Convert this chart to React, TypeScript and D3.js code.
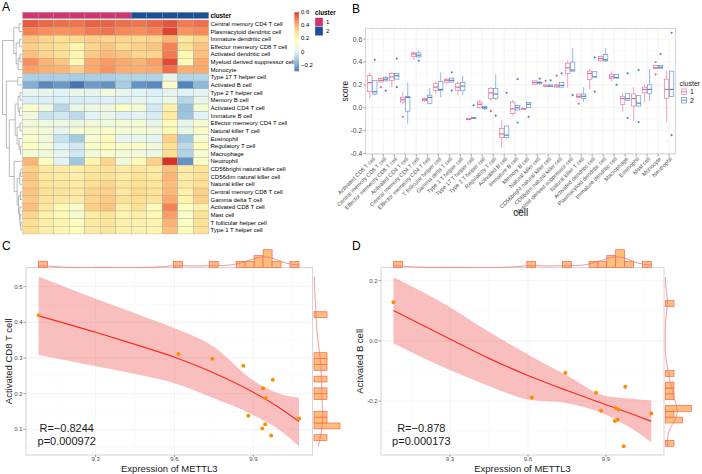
import React from 'react';
import * as d3 from 'd3';

// ---------- A: immune infiltration heatmap ----------
const heatRows = [
  'Central memory CD4 T cell', 'Plasmacytoid dendritic cell', 'Immature dendritic cell',
  'Effector memeory CD8 T cell', 'Activated dendritic cell', 'Myeloid derived suppressor cell',
  'Monocyte', 'Type 17 T helper cell', 'Activated B cell', 'Type 2 T helper cell',
  'Memory B cell', 'Activated CD4 T cell', 'Immature  B cell', 'Effector memeory CD4 T cell',
  'Natural killer T cell', 'Eosinophil', 'Regulatory T cell', 'Macrophage', 'Neutrophil',
  'CD56bright natural killer cell', 'CD56dim natural killer cell', 'Natural killer cell',
  'Central memory CD8 T cell', 'Gamma delta T cell', 'Activated CD8 T cell', 'Mast cell',
  'T follicular helper cell', 'Type 1 T helper cell',
];
const sampleCluster = [1, 1, 1, 1, 1, 1, 1, 2, 2, 2, 2, 2];
const heatValues = [
  [0.53, 0.51, 0.50, 0.49, 0.52, 0.52, 0.50, 0.49, 0.51, 0.54, 0.48, 0.50],
  [0.47, 0.45, 0.44, 0.45, 0.48, 0.49, 0.46, 0.45, 0.47, 0.57, 0.44, 0.46],
  [0.35, 0.32, 0.30, 0.31, 0.33, 0.32, 0.32, 0.31, 0.32, 0.38, 0.26, 0.32],
  [0.33, 0.31, 0.29, 0.20, 0.32, 0.35, 0.31, 0.33, 0.35, 0.47, 0.29, 0.35],
  [0.36, 0.32, 0.30, 0.20, 0.34, 0.37, 0.35, 0.32, 0.32, 0.48, 0.19, 0.36],
  [0.45, 0.38, 0.35, 0.19, 0.40, 0.43, 0.40, 0.38, 0.42, 0.56, 0.17, 0.40],
  [0.41, 0.39, 0.38, 0.33, 0.40, 0.44, 0.39, 0.39, 0.40, 0.50, 0.39, 0.40],
  [-0.10, -0.10, -0.10, -0.11, -0.10, -0.10, -0.09, -0.09, -0.09, 0.02, -0.09, -0.085],
  [-0.18, -0.26, -0.23, -0.35, -0.22, -0.24, -0.11, -0.24, -0.26, 0.13, -0.27, -0.16],
  [0.03, 0.02, 0.0, 0.05, 0.03, 0.07, 0.03, 0.0, -0.01, 0.02, 0.0, 0.01],
  [-0.01, -0.01, -0.01, -0.015, -0.01, -0.005, -0.01, 0.03, 0.0, 0.05, -0.08, 0.04],
  [0.12, 0.07, -0.08, 0.05, 0.06, 0.07, 0.14, 0.09, -0.03, 0.22, -0.14, 0.10],
  [0.07, -0.05, -0.03, -0.07, 0.0, 0.05, -0.01, 0.01, -0.02, 0.25, -0.13, 0.0],
  [0.08, 0.07, 0.06, 0.05, 0.08, 0.07, 0.09, 0.09, 0.04, 0.17, 0.03, 0.11],
  [0.10, 0.09, 0.035, 0.10, 0.11, 0.12, 0.09, 0.10, 0.08, 0.18, 0.05, 0.12],
  [0.12, 0.08, -0.05, -0.115, 0.10, 0.18, 0.015, 0.04, 0.015, 0.33, -0.125, 0.10],
  [0.15, 0.10, 0.0, -0.03, 0.13, 0.17, 0.13, 0.12, 0.08, 0.29, -0.07, 0.17],
  [0.10, 0.08, 0.03, -0.035, 0.08, 0.12, 0.09, 0.08, 0.06, 0.30, -0.09, 0.10],
  [0.38, 0.16, 0.0, -0.125, 0.20, 0.32, 0.08, 0.18, 0.33, 0.65, -0.24, 0.13],
  [0.33, 0.26, 0.24, 0.23, 0.27, 0.29, 0.25, 0.27, 0.25, 0.36, 0.24, 0.28],
  [0.35, 0.26, 0.24, 0.23, 0.28, 0.29, 0.25, 0.29, 0.26, 0.38, 0.24, 0.30],
  [0.34, 0.28, 0.26, 0.25, 0.30, 0.32, 0.27, 0.29, 0.27, 0.36, 0.25, 0.30],
  [0.35, 0.29, 0.28, 0.26, 0.32, 0.33, 0.26, 0.31, 0.29, 0.37, 0.22, 0.33],
  [0.34, 0.28, 0.26, 0.25, 0.32, 0.34, 0.29, 0.30, 0.28, 0.40, 0.21, 0.33],
  [0.36, 0.26, 0.18, 0.12, 0.33, 0.35, 0.22, 0.29, 0.16, 0.47, 0.15, 0.21],
  [0.32, 0.22, 0.18, 0.11, 0.24, 0.27, 0.20, 0.23, 0.18, 0.42, 0.12, 0.29],
  [0.30, 0.23, 0.20, 0.16, 0.25, 0.27, 0.22, 0.22, 0.20, 0.38, 0.14, 0.29],
  [0.30, 0.23, 0.20, 0.16, 0.25, 0.27, 0.22, 0.22, 0.20, 0.36, 0.16, 0.29],
];
const heatPalette = ['#4575B4', '#91BFDB', '#E0F3F8', '#FFFFBF', '#FEE090', '#FC8D59', '#D73027'];
const heatLegendTicks = [0.6, 0.4, 0.2, 0, -0.2];
const clusterColors: Record<number, string> = { 1: '#D6336C', 2: '#1B4F9C' };

// row dendrogram: leaf = row index, node = [height, left, right]
type Tree = number | [number, Tree, Tree];
const rowTree: Tree = [1.0,
  [0.42, [0.15, 0, 1], [0.3, [0.12, 2, 3], [0.2, [0.1, 4, 5], 6]]],
  [0.8, [0.22, 7, 8],
    [0.65,
      [0.35, [0.2, [0.1, 9, 10], [0.12, 11, 12]], [0.25, [0.1, 13, 14], [0.15, 15, [0.08, 16, 17]]]],
      [0.4, 18, [0.25, [0.12, [0.06, 19, 20], 21], [0.18, [0.08, 22, 23], [0.12, 24, [0.1, 25, [0.06, 26, 27]]]]]],
    ],
  ],
];

// ---------- B: ssGSEA scores by cluster ----------
const boxCells = [
  'Activated CD8 T cell', 'Central memory CD8 T cell', 'Effector memeory CD8 T cell',
  'Activated CD4 T cell', 'Central memory CD4 T cell', 'Effector memeory CD4 T cell',
  'T follicular helper cell', 'Gamma delta T cell', 'Type 1 T helper cell',
  'Type 17 T helper cell', 'Type 2 T helper cell', 'Regulatory T cell', 'Activated B cell',
  'Immature  B cell', 'Memory B cell', 'Natural killer cell', 'CD56bright natural killer cell',
  'CD56dim natural killer cell', 'Myeloid derived suppressor cell', 'Natural killer T cell',
  'Activated dendritic cell', 'Plasmacytoid dendritic cell', 'Immature dendritic cell',
  'Macrophage', 'Eosinophil', 'Mast cell', 'Monocyte', 'Neutrophil',
];
// [lower whisker, q1, median, q3, upper whisker]
const boxStats1 = [
  [0.08, 0.14, 0.22, 0.28, 0.31], [0.22, 0.225, 0.24, 0.255, 0.27], [0.18, 0.24, 0.27, 0.30, 0.31],
  [0.03, 0.05, 0.07, 0.09, 0.14], [0.42, 0.45, 0.47, 0.48, 0.49], [0.05, 0.06, 0.07, 0.08, 0.09],
  [0.12, 0.15, 0.18, 0.21, 0.23], [0.21, 0.22, 0.24, 0.25, 0.26], [0.11, 0.15, 0.18, 0.21, 0.23],
  [-0.11, -0.105, -0.10, -0.095, -0.09], [-0.01, 0.0, 0.03, 0.05, 0.07], [0.06, 0.08, 0.13, 0.17, 0.18],
  [-0.35, -0.26, -0.23, -0.18, -0.11], [-0.07, -0.05, -0.01, 0.05, 0.07], [-0.015, -0.012, -0.01, -0.007, -0.005],
  [0.20, 0.205, 0.22, 0.235, 0.24], [0.18, 0.185, 0.19, 0.20, 0.20], [0.18, 0.18, 0.19, 0.20, 0.21],
  [0.17, 0.30, 0.35, 0.39, 0.415], [0.09, 0.09, 0.10, 0.12, 0.12], [0.16, 0.245, 0.30, 0.32, 0.34],
  [0.40, 0.41, 0.43, 0.45, 0.46], [0.23, 0.255, 0.27, 0.29, 0.32], [-0.035, 0.03, 0.08, 0.10, 0.127],
  [-0.115, 0.015, 0.08, 0.12, 0.18], [0.05, 0.13, 0.16, 0.18, 0.20], [0.345, 0.345, 0.35, 0.37, 0.37],
  [-0.125, 0.08, 0.16, 0.25, 0.32],
];
const boxStats2 = [
  [0.11, 0.12, 0.14, 0.24, 0.24], [0.23, 0.235, 0.25, 0.265, 0.28], [0.25, 0.25, 0.28, 0.30, 0.30],
  [-0.14, -0.03, 0.09, 0.10, 0.22], [0.44, 0.445, 0.46, 0.48, 0.50], [0.03, 0.04, 0.09, 0.11, 0.17],
  [0.09, 0.15, 0.16, 0.23, 0.31], [0.22, 0.225, 0.24, 0.26, 0.26], [0.11, 0.15, 0.19, 0.22, 0.28],
  [-0.095, -0.092, -0.09, -0.087, -0.085], [-0.02, -0.01, 0.0, 0.01, 0.02], [0.07, 0.08, 0.12, 0.17, 0.29],
  [-0.27, -0.26, -0.24, -0.16, -0.16], [-0.02, -0.02, 0.0, 0.02, 0.02], [0.0, 0.0, 0.03, 0.045, 0.05],
  [0.20, 0.21, 0.22, 0.225, 0.23], [0.18, 0.185, 0.19, 0.20, 0.20], [0.18, 0.18, 0.195, 0.22, 0.22],
  [0.32, 0.32, 0.33, 0.40, 0.52], [0.05, 0.08, 0.10, 0.12, 0.18], [0.27, 0.27, 0.27, 0.315, 0.315],
  [0.40, 0.41, 0.42, 0.465, 0.52], [0.255, 0.26, 0.265, 0.29, 0.29], [0.062, 0.062, 0.08, 0.127, 0.127],
  [0.015, 0.015, 0.04, 0.105, 0.105], [0.06, 0.125, 0.16, 0.20, 0.34], [0.345, 0.345, 0.355, 0.37, 0.37],
  [0.10, 0.10, 0.16, 0.32, 0.32],
];
const boxOutliers1 = [
  [], [0.18], [], [-0.08], [], [], [], [], [], [], [], [-0.03], [], [], [],
  [], [0.235], [0.28], [], [0.035], [], [], [], [], [], [], [0.40, 0.29], [],
];
const boxOutliers2 = [
  [0.42], [0.15], [0.43, 0.18], [], [0.41], [], [], [0.31, 0.15], [], [0.02], [], [-0.07], [0.13], [0.25, -0.13], [-0.08],
  [0.255], [0.24], [0.30], [0.11], [], [0.44, 0.14], [], [0.20], [0.30, -0.09], [0.33, -0.125], [], [0.47], [0.655, -0.24],
];
const scoreTicks = [-0.4, -0.2, 0, 0.2, 0.4, 0.6];
const scoreMinor = [-0.3, -0.1, 0.1, 0.3, 0.5];
const boxColors = ['#E4658F', '#4E86CF'];

// ---------- C / D: METTL3 correlations ----------
const mettl3 = [9.083, 9.615, 9.744, 9.862, 9.881, 9.934, 9.937, 9.945, 9.948, 9.968, 9.974, 10.074];
const activatedCD8 = [0.42, 0.311, 0.298, 0.278, 0.138, 0.102, 0.215, 0.114, 0.188, 0.083, 0.239, 0.130];
const activatedB = [0.128, -0.188, -0.107, -0.172, -0.232, -0.266, -0.223, -0.262, -0.228, -0.35, -0.152, -0.241];
const fitX = [9.083, 9.3, 9.45, 9.6, 9.75, 9.9, 10.0, 10.074];
const cd8Fit = [0.418, 0.372, 0.338, 0.302, 0.258, 0.204, 0.160, 0.122];
const cd8Lower = [0.308, 0.277, 0.255, 0.229, 0.187, 0.140, 0.098, 0.052];
const cd8Upper = [0.528, 0.466, 0.425, 0.383, 0.331, 0.237, 0.200, 0.189];
const bFit = [0.101, 0.006, -0.058, -0.115, -0.165, -0.212, -0.243, -0.267];
const bLower = [-0.009, -0.097, -0.150, -0.195, -0.207, -0.245, -0.292, -0.337];
const bUpper = [0.211, 0.112, 0.030, -0.045, -0.115, -0.183, -0.192, -0.198];
const exprTicks = [9.3, 9.6, 9.9];
const exprMinor = [9.15, 9.45, 9.75, 10.05];

const FONT = '"Liberation Sans", Arial, Helvetica, sans-serif';
const TICK = '#4D4D4D';
const GRID = '#EBEBEB';
const GRID_MINOR = '#F5F5F5';
const BORDER = '#C4C4C4';

// gaussian kernel density with R's bw.nrd0
function kde(values: number[], lo: number, hi: number, n = 256) {
  const sorted = values.slice().sort(d3.ascending);
  const sd = d3.deviation(values) as number;
  const iqr = (d3.quantileSorted(sorted, 0.75) as number) - (d3.quantileSorted(sorted, 0.25) as number);
  const bw = 0.9 * Math.min(sd, iqr / 1.34) * Math.pow(values.length, -0.2);
  const k = 1 / (values.length * bw * Math.sqrt(2 * Math.PI));
  return d3.range(n).map(i => {
    const x = lo + ((hi - lo) * i) / (n - 1);
    return [x, k * d3.sum(values, v => Math.exp(-0.5 * ((x - v) / bw) ** 2))] as [number, number];
  });
}

// histogram as densities, 29 equal bins over [lo, hi]
function densityBins(values: number[], lo: number, hi: number, nb = 29) {
  const w = (hi - lo) / nb;
  const bins = d3.bin().domain([lo, hi]).thresholds(d3.range(1, nb).map(i => lo + i * w))(values);
  return bins
    .filter(b => b.length > 0)
    .map(b => ({ x0: b.x0 as number, x1: b.x1 as number, d: b.length / (values.length * w) }));
}

function Heatmap() {
  const x0 = 22.7, y0 = 20, cw = 15.5, rh = 7.64;
  const leafX = 22;
  const color = d3.scaleLinear<string>()
    .domain(d3.range(7).map(i => -0.3 + i * 0.15))
    .range(heatPalette)
    .clamp(true);
  const legY = d3.scaleLinear().domain([0.6, -0.3]).range([12.3, 71]);

  const segs: [number, number, number, number][] = [];
  const layout = (t: Tree): { x: number; y: number } => {
    if (typeof t === 'number') return { x: leafX, y: y0 + (t + 0.5) * rh };
    const [h, l, r] = t;
    const a = layout(l), b = layout(r);
    const x = leafX - h * 19.5;
    segs.push([x, a.y, x, b.y], [x, a.y, a.x, a.y], [x, b.y, b.x, b.y]);
    return { x, y: (a.y + b.y) / 2 };
  };
  layout(rowTree);

  const legSteps = d3.range(90).map(i => 0.6 - (i * 0.9) / 90);

  return (
    <g>
      {sampleCluster.map((c, j) => (
        <rect key={'ann' + j} x={x0 + j * cw} y={12.3} width={cw} height={6.2}
          fill={clusterColors[c]} stroke="#999" strokeWidth={0.4} />
      ))}
      <text x={210.5} y={17.6} fontSize={6.3} fontWeight="bold">cluster</text>
      {heatValues.map((row, i) =>
        row.map((v, j) => (
          <rect key={`c${i}-${j}`} x={x0 + j * cw} y={y0 + i * rh} width={cw} height={rh}
            fill={color(v)} stroke="#A6A6A6" strokeWidth={0.4} />
        )))}
      {heatRows.map((r, i) => (
        <text key={'r' + i} x={210.5} y={y0 + (i + 0.5) * rh} dy="0.35em" fontSize={6}>{r}</text>
      ))}
      {segs.map((s, i) => (
        <line key={'d' + i} x1={s[0]} y1={s[1]} x2={s[2]} y2={s[3]} stroke="#8C8C8C" strokeWidth={0.6} />
      ))}
      {legSteps.map((v, i) => (
        <rect key={'lg' + i} x={294.5} y={legY(v)} width={4.5} height={legY(0.59) - legY(0.6) + 0.3}
          fill={color(v - 0.005)} />
      ))}
      {heatLegendTicks.map(t => (
        <text key={'lt' + t} x={301} y={legY(t)} dy="0.35em" fontSize={6}>
          {t === 0 ? '0' : t < 0 ? '\u22120.2' : String(t)}
        </text>
      ))}
      <text x={315} y={15} fontSize={6.3} fontWeight="bold">cluster</text>
      {[1, 2].map((c, i) => (
        <g key={'cl' + c}>
          <rect x={315} y={17.7 + i * 9} width={8} height={9} fill={clusterColors[c]} stroke="#fff" strokeWidth={0.3} />
          <text x={326} y={22.2 + i * 9} dy="0.35em" fontSize={6}>{c}</text>
        </g>
      ))}
    </g>
  );
}

function BoxPanel() {
  const left = 365.7, right = 675.7, top = 28.3, bottom = 154;
  const x = d3.scalePoint<string>().domain(boxCells).range([left, right]).padding(0.6);
  const y = d3.scaleLinear().domain([-0.405, 0.695]).range([bottom, top]);
  const step = x.step();
  const bw = step * 0.4;
  const off = step * 0.225;
  const groups = [
    { stats: boxStats1, outs: boxOutliers1, dx: -off, col: boxColors[0] },
    { stats: boxStats2, outs: boxOutliers2, dx: off, col: boxColors[1] },
  ];
  return (
    <g>
      {scoreMinor.map(t => (
        <line key={'m' + t} x1={left} x2={right} y1={y(t)} y2={y(t)} stroke={GRID_MINOR} strokeWidth={0.4} />
      ))}
      {scoreTicks.map(t => (
        <line key={'g' + t} x1={left} x2={right} y1={y(t)} y2={y(t)} stroke={GRID} strokeWidth={0.6} />
      ))}
      {boxCells.map(c => (
        <line key={'v' + c} x1={x(c)} x2={x(c)} y1={top} y2={bottom} stroke={GRID} strokeWidth={0.6} />
      ))}
      {boxCells.map((c, i) => groups.map((g, k) => {
        const [lo, q1, med, q3, hi] = g.stats[i];
        const cx = (x(c) as number) + g.dx;
        return (
          <g key={`b${i}-${k}`} stroke={g.col} fill="none">
            <line x1={cx} x2={cx} y1={y(hi)} y2={y(q3)} strokeWidth={0.6} />
            <line x1={cx} x2={cx} y1={y(q1)} y2={y(lo)} strokeWidth={0.6} />
            <rect x={cx - bw / 2} y={y(q3)} width={bw} height={Math.max(0.4, y(q1) - y(q3))} fill="#fff" strokeWidth={0.6} />
            <line x1={cx - bw / 2} x2={cx + bw / 2} y1={y(med)} y2={y(med)} strokeWidth={1.2} />
            {g.outs[i].map((o, j) => (
              <circle key={j} cx={cx} cy={y(o)} r={1.1} fill={g.col} stroke="none" />
            ))}
          </g>
        );
      }))}
      <rect x={left} y={top} width={right - left} height={bottom - top} fill="none" stroke={BORDER} strokeWidth={0.7} />
      {scoreTicks.map(t => (
        <g key={'yt' + t}>
          <line x1={left - 2.5} x2={left} y1={y(t)} y2={y(t)} stroke={TICK} strokeWidth={0.5} />
          <text x={left - 3.5} y={y(t)} dy="0.35em" textAnchor="end" fontSize={6.8} fill={TICK}>{t.toFixed(1)}</text>
        </g>
      ))}
      {boxCells.map(c => (
        <g key={'xt' + c}>
          <line x1={x(c)} x2={x(c)} y1={bottom} y2={bottom + 2.5} stroke={TICK} strokeWidth={0.5} />
          <text transform={`translate(${(x(c) as number) + 2},${bottom + 4}) rotate(-45)`} textAnchor="end"
            dy="0.35em" fontSize={5.6} fill={TICK}>{c}</text>
        </g>
      ))}
      <text transform={`translate(347.5,${(top + bottom) / 2}) rotate(-90)`} textAnchor="middle" fontSize={8.5} fill="#1A1A1A">score</text>
      <text x={(left + right) / 2} y={216} textAnchor="middle" fontSize={10} fill="#1A1A1A">cell</text>
      <text x={679.5} y={86} fontSize={7} fill="#1A1A1A">cluster</text>
      {[0, 1].map(k => (
        <g key={'key' + k}>
          <rect x={681.5} y={89 + k * 8.5} width={5} height={5.5} fill="#fff" stroke={boxColors[k]} strokeWidth={0.6} />
          <line x1={681.5} x2={686.5} y1={91.75 + k * 8.5} y2={91.75 + k * 8.5} stroke={boxColors[k]} strokeWidth={0.9} />
          <text x={690} y={91.75 + k * 8.5} dy="0.35em" fontSize={7} fill="#1A1A1A">{k + 1}</text>
        </g>
      ))}
    </g>
  );
}

interface ScatterProps {
  left: number; right: number; xDom: [number, number]; yDom: [number, number];
  yTicks: number[]; yMinor: number[]; ys: number[];
  fit: number[]; lower: number[]; upper: number[];
  yTitle: string; yTitleGap: number; rText: string; pText: string;
}

function ScatterPanel(p: ScatterProps) {
  const top = 267.7, bottom = 455;
  const x = d3.scaleLinear().domain(p.xDom).range([p.left, p.right]);
  const y = d3.scaleLinear().domain(p.yDom).range([bottom, top]);
  const idx = d3.range(fitX.length);
  const band = d3.area<number>().x(i => x(fitX[i])).y0(i => y(p.lower[i])).y1(i => y(p.upper[i])).curve(d3.curveMonotoneX);
  const line = d3.line<number>().x(i => x(fitX[i])).y(i => y(p.fit[i])).curve(d3.curveMonotoneX);

  // top marginal (expression)
  const xLo = d3.min(mettl3) as number, xHi = d3.max(mettl3) as number;
  const topBins = densityBins(mettl3, xLo, xHi);
  const topDens = kde(mettl3, xLo, xHi);
  const topMax = Math.max(d3.max(topBins, b => b.d) as number, d3.max(topDens, d => d[1]) as number);
  const th = d3.scaleLinear().domain([0, topMax]).range([0, 17.7]);
  const topBase = top - 0.3;

  // right marginal (score)
  const yLo = Math.min(d3.min(p.ys) as number, d3.min(p.lower) as number);
  const yHi = Math.max(d3.max(p.ys) as number, d3.max(p.upper) as number);
  const rBins = densityBins(p.ys, yLo, yHi);
  const rDens = kde(p.ys, yLo, yHi);
  const rMax = Math.max(d3.max(rBins, b => b.d) as number, d3.max(rDens, d => d[1]) as number);
  const rw = d3.scaleLinear().domain([0, rMax]).range([0, 26]);
  const rBase = p.right + 1.3;

  const margFill = '#FFBE7A';
  const margStroke = '#F2645A';
  const densStroke = '#F36E6E';
  const fmtY = (t: number) => (t === 0 ? '0.0' : t.toFixed(1));
  const mid = (p.left + p.right) / 2;

  return (
    <g>
      {p.yMinor.map(t => (
        <line key={'ym' + t} x1={p.left} x2={p.right} y1={y(t)} y2={y(t)} stroke={GRID_MINOR} strokeWidth={0.4} />
      ))}
      {exprMinor.map(t => (
        <line key={'xm' + t} x1={x(t)} x2={x(t)} y1={top} y2={bottom} stroke={GRID_MINOR} strokeWidth={0.4} />
      ))}
      {p.yTicks.map(t => (
        <line key={'yg' + t} x1={p.left} x2={p.right} y1={y(t)} y2={y(t)} stroke={GRID} strokeWidth={0.6} />
      ))}
      {exprTicks.map(t => (
        <line key={'xg' + t} x1={x(t)} x2={x(t)} y1={top} y2={bottom} stroke={GRID} strokeWidth={0.6} />
      ))}
      <path d={band(idx) as string} fill="#F06060" fillOpacity={0.4} />
      <path d={line(idx) as string} fill="none" stroke="#FF2A1A" strokeWidth={1.2} />
      {mettl3.map((v, i) => (
        <circle key={'pt' + i} cx={x(v)} cy={y(p.ys[i])} r={2} fill="#FF8C00" />
      ))}
      <rect x={p.left} y={top} width={p.right - p.left} height={bottom - top} fill="none" stroke={BORDER} strokeWidth={0.7} />

      {topBins.map((b, i) => (
        <rect key={'tb' + i} x={x(b.x0)} y={topBase - th(b.d)} width={x(b.x1) - x(b.x0)} height={th(b.d)}
          fill={margFill} stroke={margStroke} strokeWidth={0.7} />
      ))}
      <path d={d3.line<[number, number]>().x(d => x(d[0])).y(d => topBase - th(d[1]))(topDens) as string}
        fill="none" stroke={densStroke} strokeWidth={0.8} />
      {rBins.map((b, i) => (
        <rect key={'rb' + i} x={rBase} y={y(b.x1)} width={rw(b.d)} height={y(b.x0) - y(b.x1)}
          fill={margFill} stroke={margStroke} strokeWidth={0.7} />
      ))}
      <path d={d3.line<[number, number]>().x(d => rBase + rw(d[1])).y(d => y(d[0]))(rDens) as string}
        fill="none" stroke={densStroke} strokeWidth={0.8} />

      {p.yTicks.map(t => (
        <g key={'yt' + t}>
          <line x1={p.left - 2.5} x2={p.left} y1={y(t)} y2={y(t)} stroke={TICK} strokeWidth={0.5} />
          <text x={p.left - 3.5} y={y(t)} dy="0.35em" textAnchor="end" fontSize={6} fill={TICK}>{fmtY(t)}</text>
        </g>
      ))}
      {exprTicks.map(t => (
        <g key={'xt' + t}>
          <line x1={x(t)} x2={x(t)} y1={bottom} y2={bottom + 2} stroke={TICK} strokeWidth={0.5} />
          <text x={x(t)} y={461} textAnchor="middle" fontSize={6} fill={TICK}>{t.toFixed(1)}</text>
        </g>
      ))}
      <text x={mid} y={471.5} textAnchor="middle" fontSize={9.5} fill="#1A1A1A">Expression of METTL3</text>
      <text transform={`translate(${p.left - p.yTitleGap},${(top + bottom) / 2}) rotate(-90)`} textAnchor="middle"
        fontSize={9.5} fill="#1A1A1A">{p.yTitle}</text>
      <text x={x(9.19)} y={bottom - 23.5} textAnchor="middle" fontSize={11} fill="#1A1A1A">{p.rText}</text>
      <text x={x(9.19)} y={bottom - 10.5} textAnchor="middle" fontSize={11} fill="#1A1A1A">{p.pText}</text>
    </g>
  );
}

export default function App() {
  return (
    <svg width={702} height={474} viewBox="0 0 702 474" fontFamily={FONT}
      style={{ position: 'absolute', left: 0, top: 0, background: '#fff' }}>
      <rect width={702} height={474} fill="#fff" />
      <text x={2} y={10.5} fontSize={12}>A</text>
      <text x={352} y={12.5} fontSize={12}>B</text>
      <text x={2} y={250} fontSize={12}>C</text>
      <text x={352} y={250} fontSize={12}>D</text>
      <Heatmap />
      <BoxPanel />
      <ScatterPanel left={26} right={312.7} xDom={[9.035, 10.126]} yDom={[0.028, 0.553]}
        yTicks={[0.1, 0.2, 0.3, 0.4, 0.5]} yMinor={[0.05, 0.15, 0.25, 0.35, 0.45, 0.55]}
        ys={activatedCD8} fit={cd8Fit} lower={cd8Lower} upper={cd8Upper}
        yTitle="Activated CD8 T cell" yTitleGap={14.5} rText={'R=\u22120.8244'} pText="p=0.000972" />
      <ScatterPanel left={381} right={664} xDom={[9.035, 10.123]} yDom={[-0.379, 0.243]}
        yTicks={[-0.2, 0, 0.2]} yMinor={[-0.3, -0.1, 0.1]}
        ys={activatedB} fit={bFit} lower={bLower} upper={bUpper}
        yTitle="Activated B cell" yTitleGap={18.5} rText={'R=\u22120.878'} pText="p=0.000173" />
    </svg>
  );
}
